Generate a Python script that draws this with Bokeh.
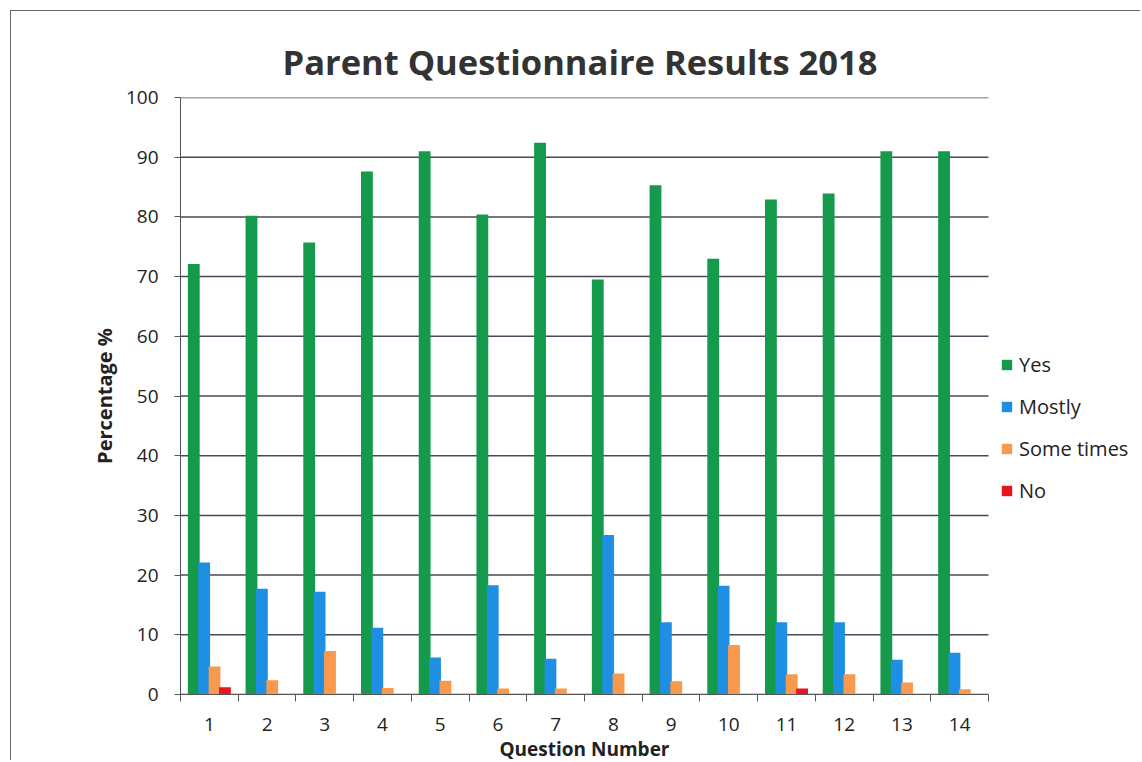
from bokeh.plotting import figure
from bokeh.models import ColumnDataSource, FixedTicker, Legend, LegendItem, Title
from bokeh.embed import file_html
from bokeh.resources import INLINE

questions = list(range(1, 15))
yes = [72.1, 80.2, 75.7, 87.6, 91.0, 80.4, 92.4, 69.5, 85.3, 73.0, 82.9, 83.9, 91.0, 91.0]
mostly = [22.1, 17.7, 17.2, 11.2, 6.2, 18.3, 6.0, 26.7, 12.1, 18.2, 12.1, 12.1, 5.8, 7.0]
sometimes = [4.7, 2.4, 7.3, 1.1, 2.3, 1.0, 1.0, 3.5, 2.2, 8.3, 3.4, 3.4, 2.0, 0.9]
no = [1.2, 0, 0, 0, 0, 0, 0, 0, 0, 0, 1.0, 0, 0, 0]
series_names = ["Yes", "Mostly", "Some times", "No"]
y_ticks = list(range(0, 101, 10))

colors = ["#149a4a", "#1f8fe3", "#f79a4e", "#e8141f"]
offsets = [-0.27, -0.09, 0.09, 0.27]
FONT = "Open Sans"

# layout: category axis spans 808px; frame extended to the right to host the legend
X_LO, X_HI = 0.5, 14.5
FRAME_W = 1130 - 169
x_end = X_LO + FRAME_W * (X_HI - X_LO) / 808

p = figure(width=1130, height=750, x_range=(X_LO, x_end), y_range=(0, 100),
           output_backend="svg", toolbar_location=None,
           min_border_left=169, min_border_right=0, min_border_top=86, min_border_bottom=66)
p.margin = (10, 0, 0, 10)
p.title.text = "Parent Questionnaire Results 2018"
p.title.text_font = FONT
p.title.text_font_size = "34.5px"
p.title.text_font_style = "bold"
p.title.text_color = "#333333"
p.title.align = "left"
p.title.offset = 102
p.title.standoff = 25

# horizontal grid lines (only across the category area)
p.segment(x0=X_LO, x1=X_HI, y0=y_ticks, y1=y_ticks, line_color="#484858", line_width=1.5)

src = dict(yes=yes, mostly=mostly, sometimes=sometimes, no=no)
renderers = []
for key, off, col in zip(["yes", "mostly", "sometimes", "no"], offsets, colors):
    xs = [q + off for q in questions]
    s = ColumnDataSource(dict(x=xs, top=src[key]))
    r = p.vbar(x="x", top="top", bottom=0, width=0.205, source=s, fill_color=col, line_color=None)
    renderers.append(r)

p.outline_line_color = None
p.xgrid.grid_line_color = None
p.ygrid.grid_line_color = None

p.yaxis.ticker = FixedTicker(ticks=y_ticks)
p.yaxis.axis_line_color = "#555555"
p.yaxis.major_tick_line_color = "#555555"
p.yaxis.major_tick_out = 6
p.yaxis.major_tick_in = 0
p.yaxis.minor_tick_line_color = None
p.yaxis.major_label_text_font = FONT
p.yaxis.major_label_text_font_size = "19px"
p.yaxis.major_label_text_color = "#222222"
p.yaxis.major_label_standoff = 16
p.yaxis.axis_label = "Percentage %"
p.yaxis.axis_label_text_font = FONT
p.yaxis.axis_label_text_font_size = "20px"
p.yaxis.axis_label_text_font_style = "bold"
p.yaxis.axis_label_text_color = "#222222"
p.yaxis.axis_label_standoff = 5

p.xaxis.bounds = (X_LO, X_HI)
p.xaxis.ticker = FixedTicker(ticks=questions, minor_ticks=[q - 0.5 for q in questions] + [14.5])
p.xaxis.axis_line_color = "#555555"
p.xaxis.major_tick_line_color = None
p.xaxis.minor_tick_line_color = "#555555"
p.xaxis.minor_tick_out = 7
p.xaxis.minor_tick_in = 0
p.xaxis.major_label_text_font = FONT
p.xaxis.major_label_text_font_size = "19px"
p.xaxis.major_label_text_color = "#222222"
p.xaxis.major_label_standoff = 16

xlabel = Title(text="Question Number", align="left", offset=319, standoff=0,
               text_font=FONT, text_font_size="19px", text_font_style="bold", text_color="#222222")
p.add_layout(xlabel, "below")

legend = Legend(items=[LegendItem(label=n, renderers=[r]) for n, r in zip(series_names, renderers)],
                location=(820, 190), padding=0, margin=0, spacing=15,
                glyph_width=13, glyph_height=13, label_height=20, label_standoff=6,
                label_text_font=FONT, label_text_font_size="20px", label_text_color="#222222",
                background_fill_alpha=0, border_line_color=None)
p.add_layout(legend, "center")

p.styles = {"border-top": "1px solid #666666", "border-left": "1px solid #666666"}

open("out.html", "w").write(file_html(p, INLINE))
